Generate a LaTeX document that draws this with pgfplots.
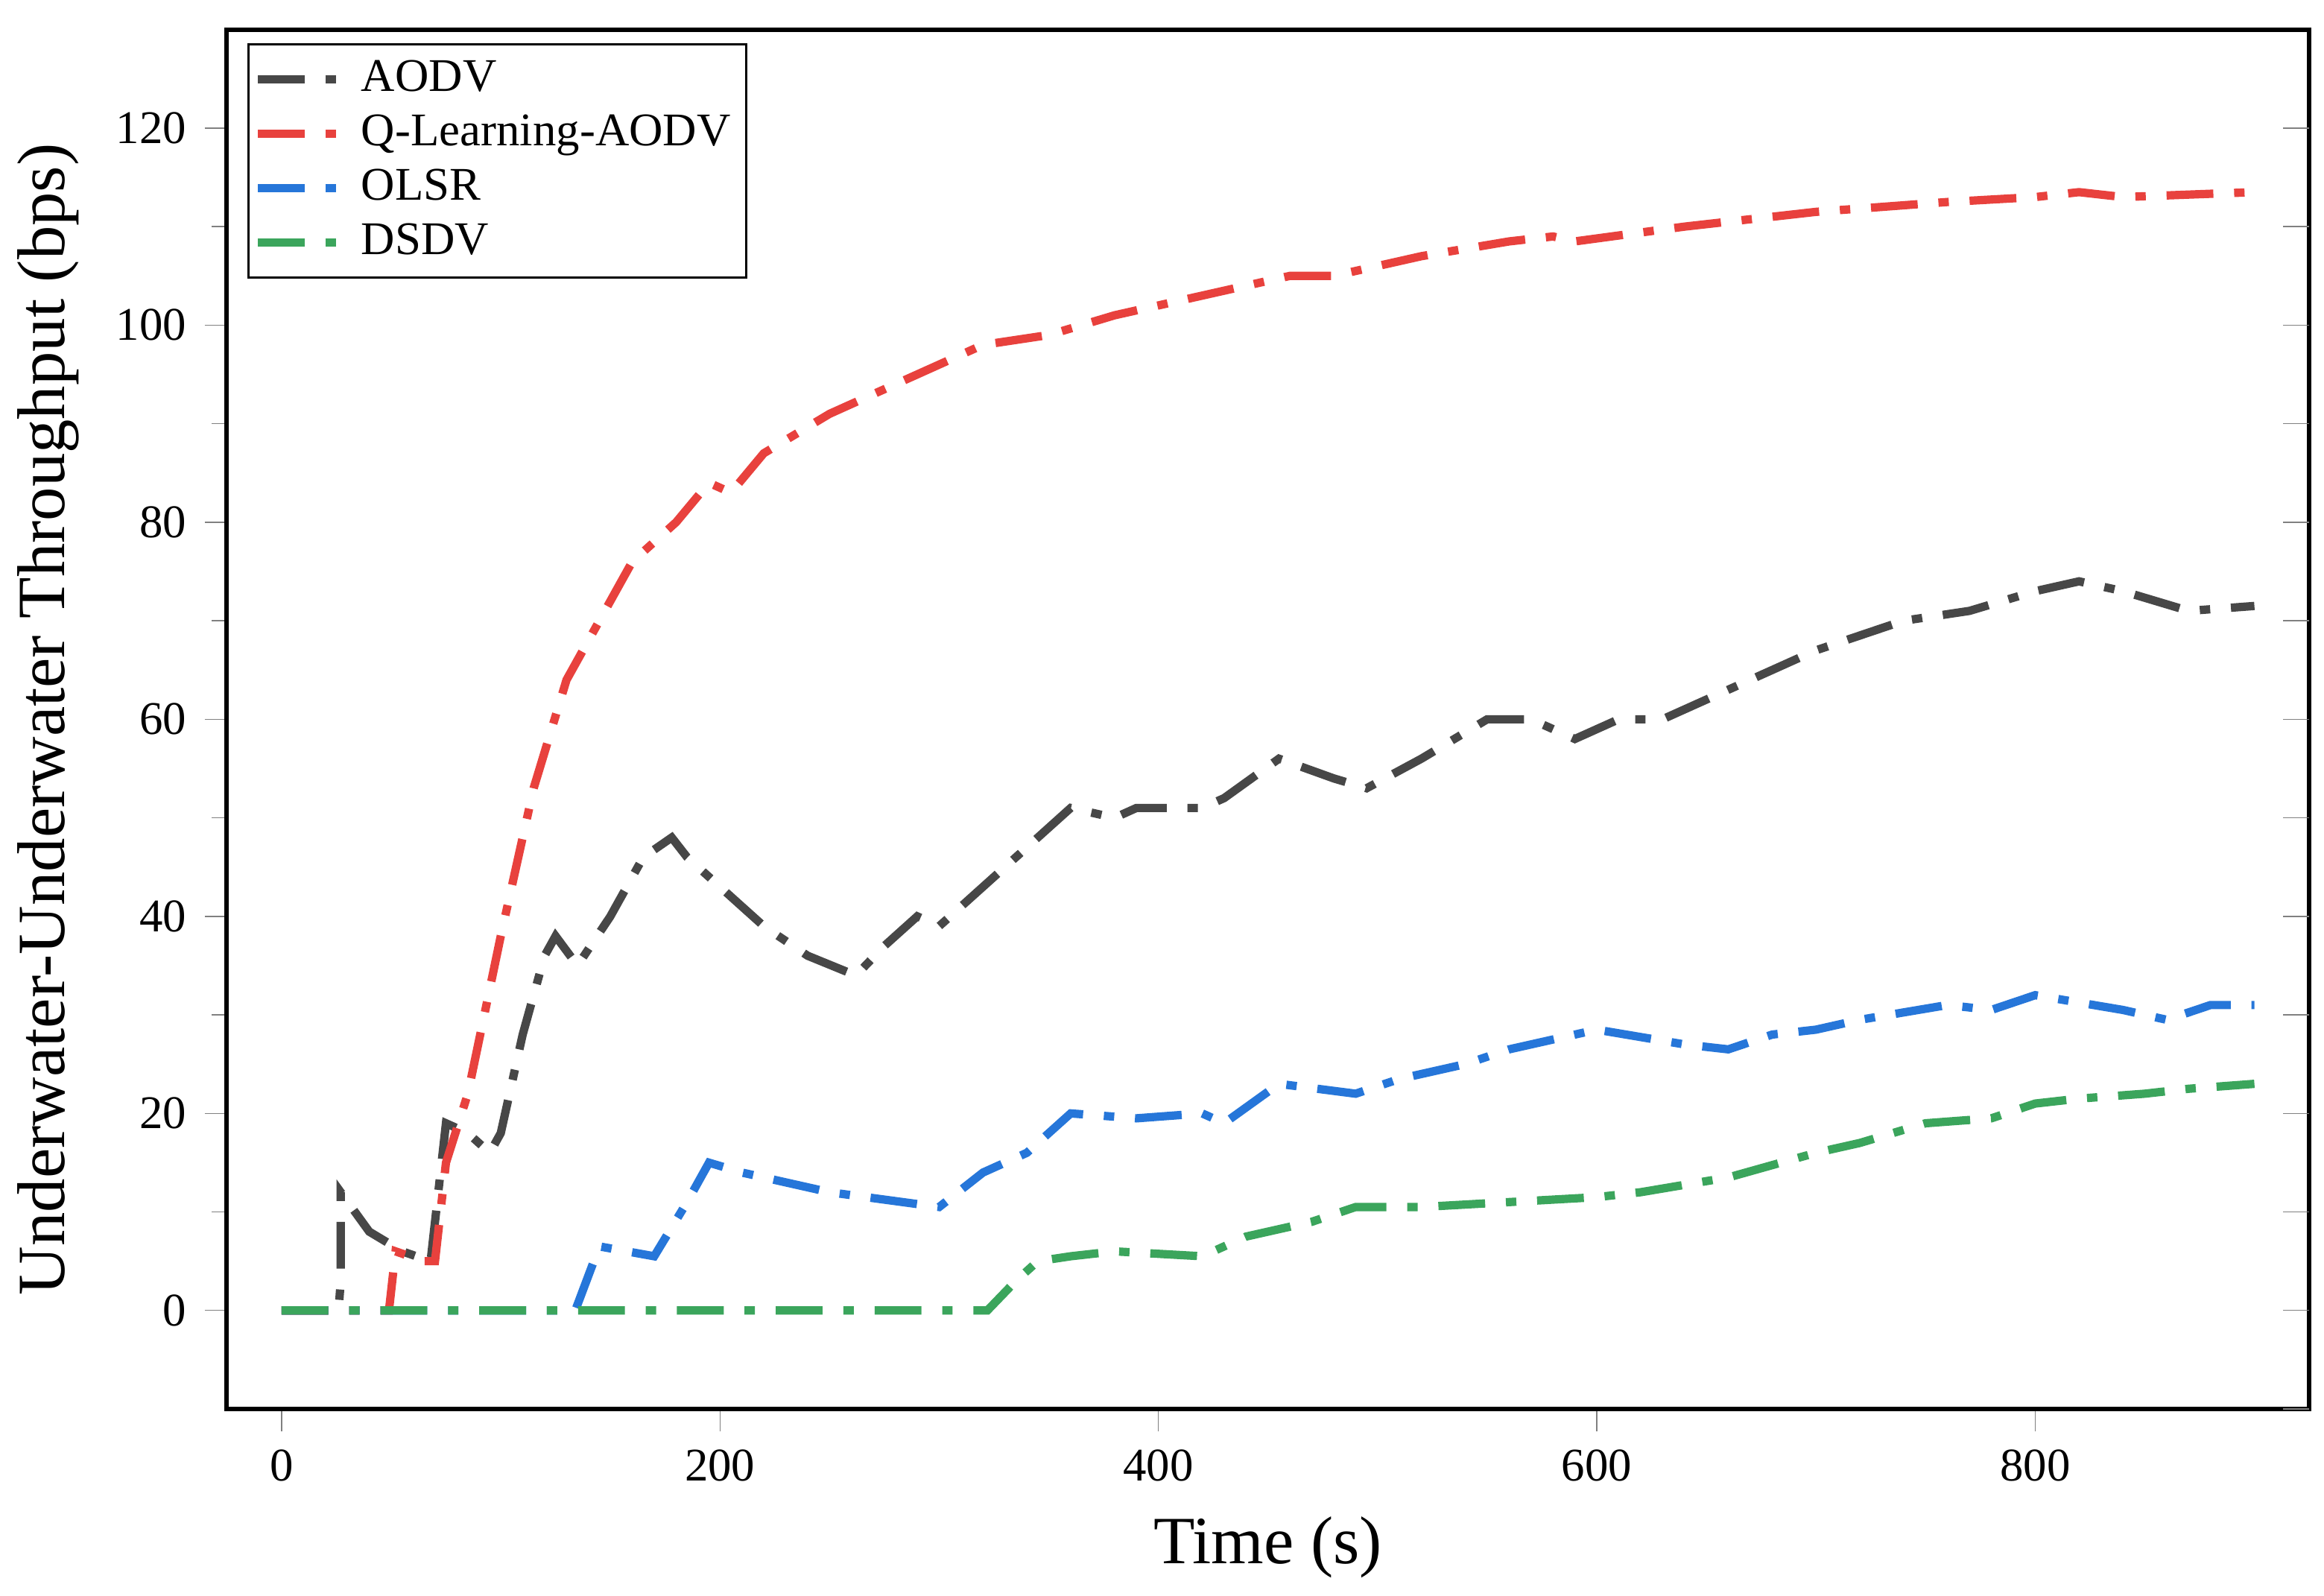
\documentclass[border=0pt]{standalone}
\usepackage{pgfplots}
\pgfplotsset{compat=1.18}
\usepackage{fontspec}
\setmainfont{Liberation Serif}
\definecolor{cA}{HTML}{474747}
\definecolor{cQ}{HTML}{E8413D}
\definecolor{cO}{HTML}{2676D9}
\definecolor{cD}{HTML}{3BA55C}
\begin{document}
\begin{tikzpicture}
\begin{axis}[
  scale only axis, width=14.07cm, height=9.32cm,
  xmin=-25, xmax=925, ymin=-10, ymax=130,
  xtick={0,200,400,600,800}, ytick={0,20,...,120},
  minor y tick num=1,
  tick align=outside, ytick pos=left, xtick pos=bottom,
  extra y ticks={-10,0,10,...,120}, extra y tick labels={},
  extra y tick style={ytick pos=right, tick align=inside, major tick length=5pt},
  /pgf/number format/assume math mode=true,
  ticklabel style={font=\fontsize{9}{10}\selectfont},
  xlabel={Time (s)}, ylabel={Underwater-Underwater Throughput (bps)},
  xlabel style={font=\fontsize{13}{15}\selectfont},
  ylabel style={font=\fontsize{13}{15}\selectfont, yshift=-4pt},
  axis line style={line width=0.9pt},
  legend style={font=\fontsize{9}{10}\selectfont, draw=black, inner sep=1pt, row sep=-1pt, at={(0.01,0.99)}, anchor=north west},
  legend cell align=left,
  every axis plot/.append style={line width=1.6pt, dash pattern=on 9pt off 4pt on 2pt off 4pt},
]
\addplot[cA] coordinates {(0,0)(26,0)(27,3)(27,12)(40,8)(55,6)(68,5)(75,19)(85,18)(95,16)(100,18)(110,28)(120,36)(125,38)(135,35)(150,40)(165,46)(178,48)(185,46)(200,43)(220,39)(240,36)(262,34)(275,37)(290,40)(300,39)(320,43)(340,47)(360,51)(380,50)(390,51)(420,51)(430,52)(455,56)(480,54)(495,53)(520,56)(550,60)(570,60)(590,58)(610,60)(630,60)(660,63)(700,67)(740,70)(770,71)(800,73)(820,74)(840,73)(870,71)(900,71.5)};
\addlegendentry{AODV}
\addplot[cQ] coordinates {(0,0)(49,0)(50,2)(52,6)(65,5)(70,5)(75,15)(85,22)(100,38)(115,53)(130,64)(145,70)(160,76)(180,80)(195,84)(205,83)(220,87)(250,91)(280,94)(320,98)(350,99)(380,101)(420,103)(460,105)(480,105)(520,107)(560,108.5)(580,109)(590,108.5)(640,110)(700,111.5)(760,112.5)(800,113)(820,113.5)(840,113)(900,113.5)};
\addlegendentry{Q-Learning-AODV}
\addplot[cO] coordinates {(0,0)(134,0)(145,6.5)(170,5.5)(185,11)(195,15)(210,14)(250,12)(300,10.5)(320,14)(340,16)(360,20)(390,19.5)(420,20)(430,19)(455,23)(490,22)(510,23.5)(540,25)(560,26.5)(600,28.5)(640,27)(660,26.5)(680,28)(700,28.5)(720,29.5)(760,31)(780,30.5)(800,32)(840,30.5)(860,29.5)(880,31)(900,31)};
\addlegendentry{OLSR}
\addplot[cD] coordinates {(0,0)(322,0)(335,3)(345,5)(360,5.5)(380,6)(420,5.5)(440,7.5)(470,9)(490,10.5)(520,10.5)(560,11)(600,11.5)(620,12)(660,13.5)(700,16)(720,17)(750,19)(780,19.5)(800,21)(820,21.5)(850,22)(870,22.5)(900,23)};
\addlegendentry{DSDV}
\end{axis}
\path (current axis.north east) ++(0.1cm,0.2cm);
\end{tikzpicture}
\end{document}
